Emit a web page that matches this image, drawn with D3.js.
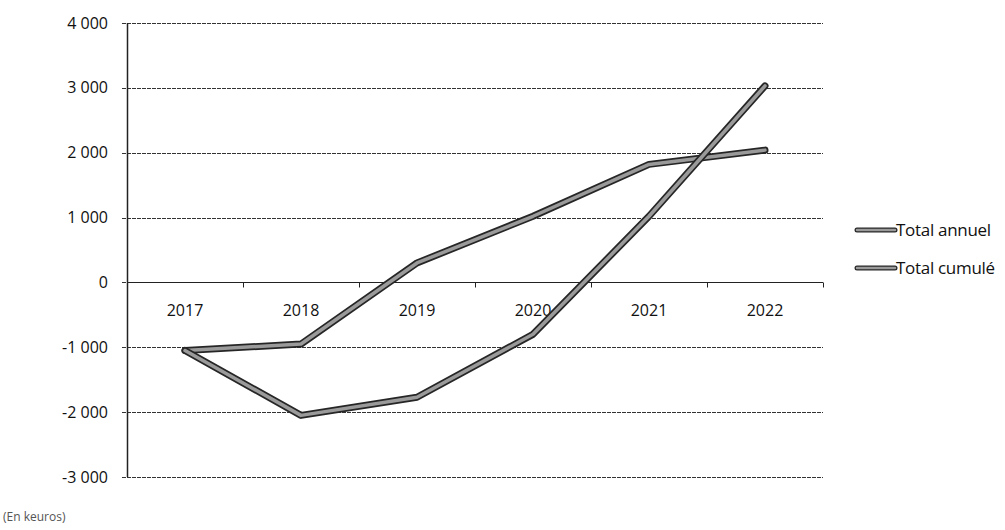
<!DOCTYPE html>
<html>
<head>
<meta charset="utf-8">
<script src="https://cdn.jsdelivr.net/npm/d3@7"></script>
<style>
  body { margin: 0; background: #fff; }
  svg { font-family: "Open Sans", sans-serif; }
</style>
</head>
<body>
<svg id="chart" width="1005" height="530"></svg>
<script>
"use strict";

// values (keuros)
const years = ["2017", "2018", "2019", "2020", "2021", "2022"];
const totalAnnuel = [-1050, -950, 300, 1020, 1820, 2040];
const totalCumule = [-1050, -2050, -1770, -800, 1020, 3030];
const yTicks = [-3000, -2000, -1000, 0, 1000, 2000, 3000, 4000];
const seriesNames = ["Total annuel", "Total cumulé"];

const svg = d3.select("#chart");
const plotLeft = 127, plotRight = 823, plotTop = 23, plotBottom = 477;

const x = d3.scaleBand().domain(years).range([plotLeft, plotRight]);
const y = d3.scaleLinear().domain([-3000, 4000]).range([plotBottom, plotTop]);

// "4 000", "-1 000" : space for thousands, plain hyphen for minus
const fmt = (v) => d3.format(",")(v).replace(/,/g, " ").replace("\u2212", "-");

// gridlines
svg.append("g")
  .selectAll("line")
  .data(yTicks)
  .join("line")
  .attr("x1", plotLeft - 5)
  .attr("x2", plotRight)
  .attr("y1", (d) => Math.round(y(d)) + 0.5)
  .attr("y2", (d) => Math.round(y(d)) + 0.5)
  .attr("stroke", "#333")
  .attr("stroke-width", 1)
  .attr("stroke-dasharray", "4,1");

// y axis line
svg.append("line")
  .attr("x1", plotLeft + 0.5).attr("x2", plotLeft + 0.5)
  .attr("y1", plotTop).attr("y2", plotBottom)
  .attr("stroke", "#222").attr("stroke-width", 1.5);

// y labels
svg.append("g")
  .selectAll("text")
  .data(yTicks)
  .join("text")
  .attr("x", 108)
  .attr("y", (d) => y(d))
  .attr("dy", "0.35em")
  .attr("text-anchor", "end")
  .attr("font-size", 16)
  .attr("fill", "#111")
  .style("white-space", "pre")
  .text((d) => fmt(d));

// x axis at zero with tick marks on band edges
const y0 = Math.round(y(0)) + 0.5;
svg.append("line")
  .attr("x1", plotLeft).attr("x2", plotRight)
  .attr("y1", y0).attr("y2", y0)
  .attr("stroke", "#222").attr("stroke-width", 1.2);

const edges = years.map((d) => x(d)).concat([plotRight]);
svg.append("g")
  .selectAll("line")
  .data(edges)
  .join("line")
  .attr("x1", (d) => Math.round(d) + 0.5)
  .attr("x2", (d) => Math.round(d) + 0.5)
  .attr("y1", y0)
  .attr("y2", y0 + 5)
  .attr("stroke", "#222");

svg.append("g")
  .selectAll("text")
  .data(years)
  .join("text")
  .attr("x", (d) => x(d) + x.bandwidth() / 2)
  .attr("y", y0 + 33)
  .attr("text-anchor", "middle")
  .attr("font-size", 16)
  .attr("fill", "#111")
  .text((d) => d);

// lines: dark outline with grey core, like the scan
const line = d3.line()
  .x((d, i) => x(years[i]) + x.bandwidth() / 2)
  .y((d) => y(d));

[totalAnnuel, totalCumule].forEach((vals) => {
  svg.append("path")
    .attr("d", line(vals))
    .attr("fill", "none")
    .attr("stroke", "#262626")
    .attr("stroke-width", 7)
    .attr("stroke-linejoin", "round")
    .attr("stroke-linecap", "round");
  svg.append("path")
    .attr("d", line(vals))
    .attr("fill", "none")
    .attr("stroke", "#9a9a9a")
    .attr("stroke-width", 3.5)
    .attr("stroke-linejoin", "round")
    .attr("stroke-linecap", "round");
});

// legend
const legend = svg.append("g")
  .selectAll("g")
  .data(seriesNames)
  .join("g")
  .attr("transform", (d, i) => "translate(0," + (230 + i * 38) + ")");

legend.append("line")
  .attr("x1", 857).attr("x2", 895)
  .attr("stroke", "#262626").attr("stroke-width", 5).attr("stroke-linecap", "round");
legend.append("line")
  .attr("x1", 857).attr("x2", 895)
  .attr("stroke", "#9a9a9a").attr("stroke-width", 2.5).attr("stroke-linecap", "round");
legend.append("text")
  .attr("x", 896)
  .attr("dy", "0.35em")
  .attr("font-size", 17)
  .attr("letter-spacing", -0.3)
  .attr("fill", "#111")
  .text((d) => d);

// unit note
svg.append("text")
  .attr("x", 3)
  .attr("y", 521)
  .attr("font-size", 12)
  .attr("fill", "#555")
  .text("(En keuros)");
</script>
</body>
</html>
